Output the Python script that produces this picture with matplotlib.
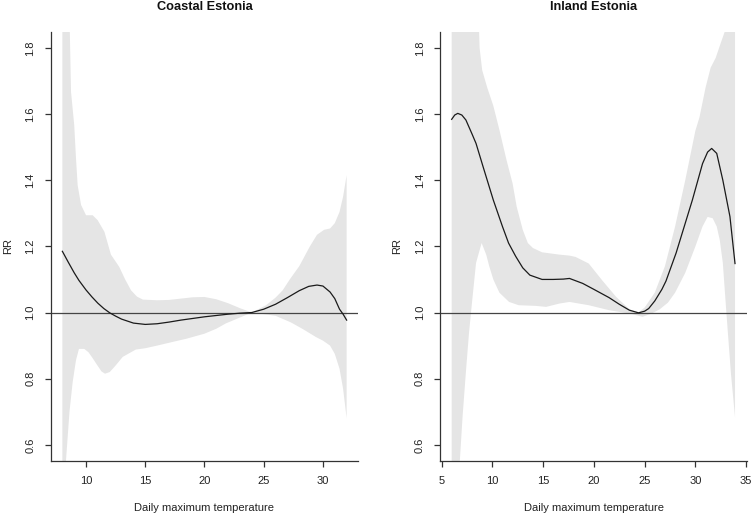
import matplotlib
matplotlib.use("Agg")
import matplotlib.pyplot as plt

plt.rcParams['font.family'] = ['Liberation Sans', 'DejaVu Sans']

# ---------------- Data ----------------
titles = ["Coastal Estonia", "Inland Estonia"]
xlabel = "Daily maximum temperature"
ylabel = "RR"

# Coastal Estonia: relative risk curve
coastal_x = [8, 8.5, 9, 9.4, 10, 10.5, 11, 11.5, 12, 12.5, 13, 14, 15, 16, 17, 18,
             19, 20, 21, 22, 23, 24, 25, 26, 27, 28, 28.8, 29.5, 30, 30.6, 31,
             31.4, 31.7, 32]
coastal_rr = [1.185, 1.152, 1.12, 1.097, 1.068, 1.047, 1.028, 1.012, 0.999, 0.989,
              0.980, 0.968, 0.964, 0.966, 0.971, 0.977, 0.982, 0.987, 0.991, 0.995,
              0.998, 1.0, 1.01, 1.025, 1.045, 1.066, 1.079, 1.083, 1.080, 1.062,
              1.042, 1.01, 0.995, 0.977]
# Coastal upper CI
coastal_hi_x = [8, 8.3, 8.6, 8.73, 9.0, 9.15, 9.29, 9.58, 10.0, 10.56, 10.98, 11.55,
                12.1, 12.8, 13.3, 13.8, 14.3, 14.8, 16, 17, 18, 19, 20, 21, 22, 23,
                24, 25.2, 26, 26.6, 27.2, 28, 28.9, 29.5, 30.1, 30.6, 31, 31.4,
                31.7, 32]
coastal_hi = [2.6, 2.2, 1.9, 1.667, 1.567, 1.466, 1.385, 1.325, 1.294, 1.294, 1.279,
              1.244, 1.175, 1.138, 1.10, 1.067, 1.048, 1.039, 1.037, 1.038, 1.042,
              1.046, 1.047, 1.040, 1.028, 1.013, 1.0, 1.022, 1.045, 1.067, 1.10,
              1.14, 1.20, 1.235, 1.25, 1.254, 1.27, 1.304, 1.35, 1.415]
# Coastal lower CI
coastal_lo_x = [8, 8.3, 8.6, 8.87, 9.15, 9.4, 9.85, 10.2, 10.5, 10.85, 11.3, 11.6,
                12.0, 12.5, 13.1, 14.2, 15, 16, 17.3, 18.5, 20, 21, 21.8, 23, 24,
                25, 26, 27.3, 28.3, 29.4, 30.0, 30.6, 31.0, 31.4, 31.7, 32]
coastal_lo = [0.35, 0.55, 0.70, 0.79, 0.856, 0.89, 0.89, 0.88, 0.865, 0.846, 0.822,
              0.815, 0.82, 0.84, 0.866, 0.888, 0.892, 0.9, 0.911, 0.921, 0.936,
              0.951, 0.967, 0.985, 1.0, 0.995, 0.99, 0.97, 0.95, 0.926, 0.915,
              0.9, 0.875, 0.83, 0.77, 0.68]

# Inland Estonia: relative risk curve
inland_x = [6.0, 6.3, 6.6, 7.0, 7.4, 8.0, 8.4, 9.1, 9.7, 10.1, 11.0, 11.6, 12.3,
            13.0, 13.7, 14.9, 16.0, 17.0, 17.6, 18.9, 20.0, 21.5, 22.5, 23.5, 24.4,
            25.0, 25.4, 26.0, 26.7, 27.1, 28.1, 28.5, 29.7, 30.7, 31.2, 31.6, 32.1,
            32.7, 33.4, 33.9]
inland_rr = [1.584, 1.597, 1.602, 1.597, 1.582, 1.54, 1.511, 1.44, 1.38, 1.34, 1.26,
             1.21, 1.17, 1.135, 1.113, 1.10, 1.10, 1.101, 1.103, 1.088, 1.07, 1.045,
             1.025, 1.007, 0.999, 1.004, 1.012, 1.035, 1.07, 1.095, 1.18, 1.22,
             1.34, 1.45, 1.485, 1.496, 1.481, 1.40, 1.29, 1.148]
# Inland upper CI
inland_hi_x = [6.0, 7.0, 8.0, 8.6, 8.75, 9.0, 9.5, 10.1, 10.7, 11.4, 12.0, 12.4,
               13.0, 13.5, 14.0, 14.9, 16.6, 17.6, 18.2, 19.5, 20.8, 22.2, 23.5,
               24.4, 25.0, 26.0, 27.0, 28.0, 29.0, 30.0, 30.4, 31.0, 31.5, 32.0,
               32.5, 32.9, 33.9]
inland_hi = [2.6, 2.6, 2.3, 1.95, 1.80, 1.733, 1.68, 1.625, 1.552, 1.461, 1.39, 1.32,
             1.25, 1.21, 1.195, 1.182, 1.175, 1.172, 1.168, 1.148, 1.098, 1.047,
             1.01, 1.0, 1.015, 1.06, 1.14, 1.26, 1.40, 1.55, 1.59, 1.68, 1.74,
             1.77, 1.815, 1.85, 2.0]
# Inland lower CI
inland_lo_x = [6.0, 6.5, 6.8, 7.07, 7.4, 7.7, 8.0, 8.4, 8.95, 9.4, 9.7, 10.1, 10.7,
               11.65, 12.6, 14.3, 15.3, 16.6, 17.6, 19.5, 21.5, 23.5, 24.8, 25.7,
               26.5, 27.3, 28.0, 29.0, 30.0, 30.7, 31.2, 31.7, 32.1, 32.4, 32.7,
               33.05, 33.5, 33.9]
inland_lo = [0.3, 0.45, 0.55, 0.684, 0.82, 0.936, 1.03, 1.15, 1.21, 1.175, 1.14,
             1.10, 1.06, 1.032, 1.022, 1.02, 1.017, 1.027, 1.032, 1.022, 1.007,
             0.997, 0.987, 0.997, 1.01, 1.03, 1.06, 1.12, 1.20, 1.26, 1.289, 1.285,
             1.26, 1.219, 1.15, 1.0, 0.815, 0.684]

coastal_xticks = [10, 15, 20, 25, 30]
inland_xticks = [5, 10, 15, 20, 25, 30, 35]
yticks = [0.6, 0.8, 1.0, 1.2, 1.4, 1.6, 1.8]
ytick_labels = ["0.6", "0.8", "1.0", "1.2", "1.4", "1.6", "1.8"]

# ---------------- Figure ----------------
W, H = 752, 514
fig = plt.figure(figsize=(W / 100, H / 100), dpi=100)

band_color = "#E5E5E5"
line_color = "#1a1a1a"
axis_color = "#333333"
FS = 8.0

def panel(rect, title, x, rr, hx, hi, lx, lo, xticks, xlim):
    ax = fig.add_axes(rect)
    # confidence band polygon
    poly_x = list(hx) + list(lx)[::-1]
    poly_y = list(hi) + list(lo)[::-1]
    ax.fill(poly_x, poly_y, color=band_color, lw=0, zorder=1)
    ax.axhline(1.0, color="#444444", lw=0.9, zorder=2)
    ax.plot(x, rr, color=line_color, lw=0.9, zorder=3)
    ax.set_xlim(*xlim)
    ax.set_ylim(0.552, 1.848)
    ax.set_xticks(xticks)
    ax.set_xticklabels([str(t) for t in xticks])
    ax.set_yticks(yticks)
    ax.set_yticklabels(ytick_labels, rotation=90, va="center")
    for s in ("top", "right"):
        ax.spines[s].set_visible(False)
    for s in ("left", "bottom"):
        ax.spines[s].set_color(axis_color)
        ax.spines[s].set_linewidth(0.9)
    ax.tick_params(axis="both", length=4.3, width=0.9, color=axis_color,
                   labelsize=FS, pad=6.8, labelcolor="#222222")
    ax.set_xlabel(xlabel, fontsize=FS, labelpad=12.0, color="#222222")
    ax.set_ylabel(ylabel, fontsize=FS, labelpad=9.0, color="#222222")
    ax.set_title(title, fontsize=9.2, fontweight="bold", pad=15.5, color="#111111")
    return ax

ax1 = panel([51 / W, 1 - 460.7 / H, (358 - 51) / W, (460.7 - 32) / H],
            titles[0], coastal_x, coastal_rr, coastal_hi_x, coastal_hi,
            coastal_lo_x, coastal_lo, coastal_xticks, (7.04, 32.96))
ax2 = panel([440.3 / W, 1 - 460.7 / H, (747 - 440.3) / W, (460.7 - 32) / H],
            titles[1], inland_x, inland_rr, inland_hi_x, inland_hi,
            inland_lo_x, inland_lo, inland_xticks, (4.88, 35.08))

fig.savefig("out.png", dpi=100)
